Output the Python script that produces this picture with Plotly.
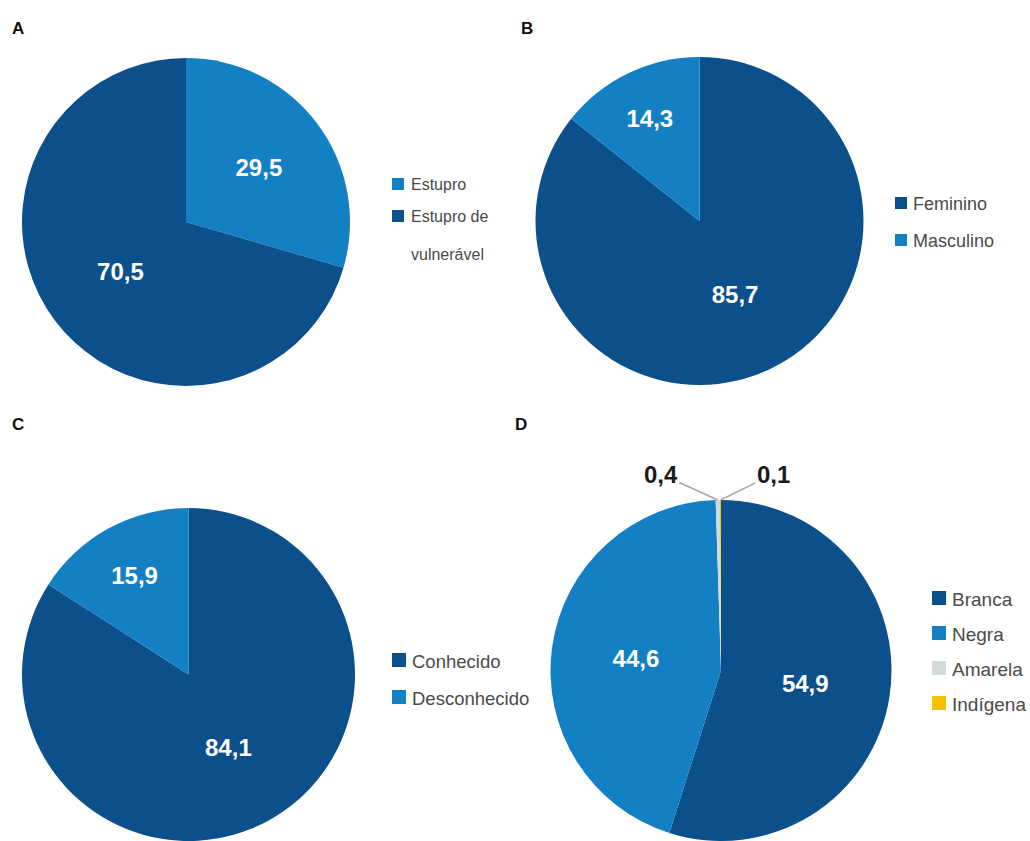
import math
import plotly.graph_objects as go

# ---------------- data ----------------
labels_a = ["Estupro", "Estupro de<br>vulnerável"]
values_a = [29.5, 70.5]

labels_b = ["Feminino", "Masculino"]
values_b = [85.7, 14.3]

labels_c = ["Conhecido", "Desconhecido"]
values_c = [84.1, 15.9]

labels_d = ["Branca", "Negra", "Amarela", "Indígena"]
values_d = [54.9, 44.6, 0.4, 0.1]

panel_letters = ["A", "B", "C", "D"]

# ---------------- style ----------------
DARK = "#0b4f8b"
LIGHT = "#1380c4"
GRAY = "#d3dade"
YELLOW = "#f3c300"

colors_a = [LIGHT, DARK]
colors_b = [DARK, LIGHT]
colors_c = [DARK, LIGHT]
colors_d = [DARK, LIGHT, GRAY, YELLOW]

W, H = 1030, 841
SANS = "Liberation Sans, Arial, sans-serif"


def px_x(v):
    return v / W


def px_y(v):
    return 1 - v / H


# pie domains (pixel boxes: left, right, top, bottom)
boxes = {
    "A": (22, 350, 58, 386),
    "B": (535, 864, 57, 385),
    "C": (18, 359, 508, 841),
    "D": (550, 892, 500, 841),
}


def domain(key):
    l, r, t, b = boxes[key]
    return dict(x=[px_x(l), px_x(r)], y=[px_y(b), px_y(t)])


fig = go.Figure()

pies = [
    ("A", labels_a, values_a, colors_a),
    ("B", labels_b, values_b, colors_b),
    ("C", labels_c, values_c, colors_c),
    ("D", labels_d, values_d, colors_d),
]

for key, labs, vals, cols in pies:
    textpos = ["inside" if v >= 5 else "none" for v in vals]
    fig.add_trace(go.Pie(
        labels=labs,
        values=vals,
        sort=False,
        direction="clockwise",
        rotation=0,
        marker=dict(colors=cols, line=dict(width=0)),
        texttemplate="%{value:.1f}",
        textposition=textpos,
        insidetextorientation="horizontal",
        textfont=dict(family=SANS, size=24, color="white", weight="bold"),
        domain=domain(key),
        showlegend=False,
        hole=0,
    ))

annotations = []
shapes = []

# panel letters
letter_pos = {"A": (18, 28), "B": (527, 28), "C": (18, 425), "D": (521, 425)}
for letter in panel_letters:
    x, y = letter_pos[letter]
    annotations.append(dict(
        x=px_x(x), y=px_y(y), xref="paper", yref="paper", text=letter,
        showarrow=False, xanchor="center", yanchor="middle",
        font=dict(family=SANS, size=17, color="#111", weight="bold"),
    ))

# custom legends (square x, text x, first-row y, row step, square size, font size, extra line gap)
legend_cfg = {
    "A": dict(sx=392, tx=409, y0=184, step=32, sq=12, fs=16, line_gap=37),
    "B": dict(sx=895, tx=911, y0=203, step=37, sq=12, fs=18, line_gap=30),
    "C": dict(sx=392, tx=410, y0=660, step=37, sq=14, fs=18.5, line_gap=30),
    "D": dict(sx=932, tx=950, y0=598, step=35, sq=14, fs=19, line_gap=30),
}
for key, labs, vals, cols in pies:
    cfg = legend_cfg[key]
    y = cfg["y0"]
    for lab, col in zip(labs, cols):
        s = cfg["sq"]
        shapes.append(dict(
            type="rect", xref="paper", yref="paper",
            x0=px_x(cfg["sx"]), x1=px_x(cfg["sx"] + s),
            y0=px_y(y + s / 2), y1=px_y(y - s / 2),
            fillcolor=col, line=dict(width=0),
        ))
        lines = lab.split("<br>")
        for i, ln in enumerate(lines):
            annotations.append(dict(
                x=px_x(cfg["tx"]), y=px_y(y + i * cfg["line_gap"] + 1),
                xref="paper", yref="paper", text=ln, showarrow=False,
                xanchor="left", yanchor="middle",
                font=dict(family=SANS, size=cfg["fs"], color="#4a4a4a"),
            ))
        y += cfg["step"]

# outside labels for the tiny slices of pie D, with leader lines
l, r, t, b = boxes["D"]
cx = (l + r) / 2
cy = (t + b) / 2
rad = min(r - l, b - t) / 2
total = sum(values_d)
cum = 0.0
offsets = {"Amarela": (-57, -26), "Indígena": (53, -26)}
for lab, v in zip(labels_d, values_d):
    mid = (cum + v / 2) / total * 2 * math.pi
    cum += v
    if v >= 5:
        continue
    tipx = cx + rad * math.sin(mid)
    tipy = cy - rad * math.cos(mid)
    ax, ay = offsets[lab]
    annotations.append(dict(
        x=px_x(tipx), y=px_y(tipy), xref="paper", yref="paper",
        text=f"{v:.1f}".replace(".", ","), showarrow=True, arrowhead=0,
        arrowwidth=1.5, arrowcolor="#a8a8a8", ax=ax, ay=ay,
        font=dict(family=SANS, size=24, color="#1a1a1a", weight="bold"),
    ))

fig.update_layout(
    width=W, height=H,
    margin=dict(l=0, r=0, t=0, b=0),
    paper_bgcolor="white",
    plot_bgcolor="white",
    separators=",.",
    annotations=annotations,
    shapes=shapes,
    showlegend=False,
)

fig.write_html("out.html")
